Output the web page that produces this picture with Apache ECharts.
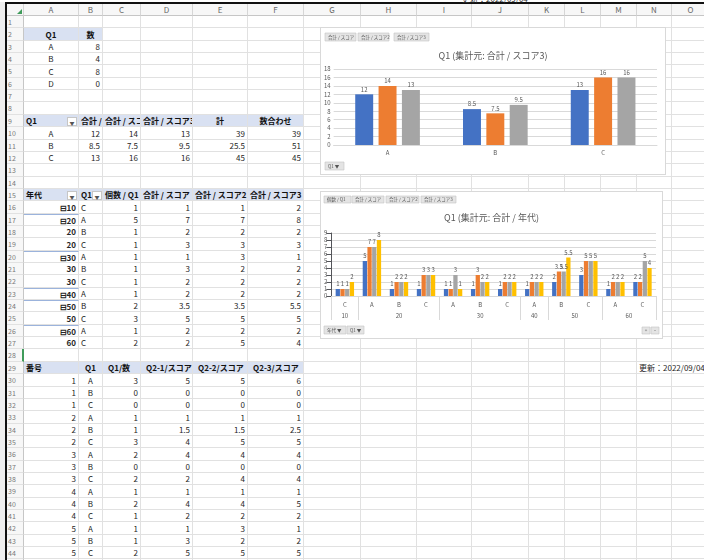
<!DOCTYPE html>
<html>
<head>
<meta charset="utf-8">
<script src="https://cdn.jsdelivr.net/npm/echarts@6/dist/echarts.min.js"></script>
<style>
body { margin: 0; width: 704px; height: 560px; overflow: hidden; background: #fff; font-family: "Noto Sans CJK JP", "Noto Sans", sans-serif; }
#sheet { position: absolute; left: 0; top: 0; width: 704px; height: 560px; overflow: hidden; }
#sheet div { position: absolute; }
.c { box-sizing: border-box; border-right: 1px solid #e1e1e1; border-bottom: 1px solid #e1e1e1; font-size: 8px; color: #262626; white-space: nowrap; overflow: hidden; padding: 0 2px; }
.hd { box-sizing: border-box; background: #f7f7f7; color: #666; font-size: 8px; text-align: center; border-right: 1px solid #d6d6d6; border-bottom: 1px solid #c6c6c6; }
.rh { box-sizing: border-box; background: #f7f7f7; color: #777; font-size: 7px; padding-left: 2px; border-right: 1px solid #c6c6c6; border-bottom: 1px solid #e1e1e1; }
.dd { box-sizing: border-box; width: 10px; height: 9px; border: 1px solid #c6c6c6; background: #fff; font-size: 5px; line-height: 7px; text-align: center; color: #555; }
.chart { position: absolute; background: #fff; border: 1px solid #d9d9d9; box-sizing: border-box; }
</style>
</head>
<body>
<div id="sheet"></div>
<div id="chart1" class="chart" style="left:320px;top:27px;width:346px;height:148px;"></div>
<div id="chart2" class="chart" style="left:320px;top:191px;width:343px;height:148px;"></div>
<script>
// ---- data ----
var q1List = ['A', 'B', 'C', 'D'];
var q1Count = [8, 4, 8, 0];

var q1Cats = ['A', 'B', 'C'];
var score1 = [12, 8.5, 13];
var score2 = [14, 7.5, 16];
var score3 = [13, 9.5, 16];
var scoreTotal = [39, 25.5, 45];
var matchTotal = [39, 51, 45];

var leafAge = ['10', '20', '20', '20', '30', '30', '30', '40', '50', '50', '60', '60'];
var leafQ1 = ['C', 'A', 'B', 'C', 'A', 'B', 'C', 'A', 'B', 'C', 'A', 'C'];
var ageCount = [1, 5, 1, 1, 1, 1, 1, 1, 2, 3, 1, 2];
var ageSum1 = [1, 7, 2, 3, 1, 3, 2, 2, 3.5, 5, 2, 2];
var ageSum2 = [1, 7, 2, 3, 3, 2, 2, 2, 3.5, 5, 2, 5];
var ageSum3 = [2, 8, 2, 3, 1, 2, 2, 2, 5.5, 5, 2, 4];

var rawNo = [1, 1, 1, 2, 2, 2, 3, 3, 3, 4, 4, 4, 5, 5, 5];
var rawQ1 = ['A', 'B', 'C', 'A', 'B', 'C', 'A', 'B', 'C', 'A', 'B', 'C', 'A', 'B', 'C'];
var rawCount = [3, 0, 0, 1, 1, 3, 2, 0, 2, 1, 2, 1, 1, 1, 2];
var rawS1 = [5, 0, 0, 1, 1.5, 4, 4, 0, 2, 1, 4, 2, 1, 3, 5];
var rawS2 = [5, 0, 0, 1, 1.5, 5, 4, 0, 4, 1, 4, 2, 3, 2, 5];
var rawS3 = [6, 0, 0, 1, 2.5, 5, 4, 0, 4, 1, 5, 2, 1, 2, 5];

// ---- sheet ----
var colEdges = [24, 79, 103, 141, 193, 248, 304, 361, 417, 472, 529, 565, 601, 637, 672, 710];
var colNames = 'ABCDEFGHIJKLMNO'.split('');
var HB = '#d9e1f2';
var sheet = document.getElementById('sheet');

function rowTop(r) { return Math.round(16 + (r - 1) * 12.35); }

function addDiv(cls, x, y, w, h, text, css) {
    var d = document.createElement('div');
    d.className = cls;
    d.style.left = x + 'px';
    d.style.top = y + 'px';
    d.style.width = w + 'px';
    d.style.height = h + 'px';
    d.style.lineHeight = h + 'px';
    if (text !== undefined) d.textContent = text;
    if (css) d.style.cssText += css;
    sheet.appendChild(d);
    return d;
}

var cells = {};
function put(r, c, t, opt) {
    var o = opt || {};
    o.t = String(t);
    cells[r + ':' + c] = o;
}

// table 1
put(2, 0, 'Q1', { a: 'center', b: 1, bg: HB });
put(2, 1, '数', { a: 'center', b: 1, bg: HB });
q1List.forEach(function (q, i) {
    put(3 + i, 0, q, { a: 'center' });
    put(3 + i, 1, q1Count[i], { a: 'right' });
});

// table 2
var head2 = ['Q1', '合計 / スコア', '合計 / スコア2', '合計 / スコア3', '計', '数合わせ'];
var align2 = ['left', 'left', 'left', 'left', 'center', 'center'];
head2.forEach(function (h, c) { put(9, c, h, { a: align2[c], b: 1, bg: HB }); });
q1Cats.forEach(function (q, i) {
    put(10 + i, 0, q, { a: 'center' });
    [score1, score2, score3, scoreTotal, matchTotal].forEach(function (arr, k) {
        put(10 + i, 1 + k, arr[i], { a: 'right' });
    });
});

// table 3
var head3 = ['年代', 'Q1', '個数 / Q1', '合計 / スコア', '合計 / スコア2', '合計 / スコア3'];
head3.forEach(function (h, c) { put(15, c, h, { a: 'left', b: 1, bg: HB }); });
leafAge.forEach(function (age, i) {
    var first = i === 0 || leafAge[i - 1] !== age;
    put(16 + i, 0, (first ? '⊟' : '') + age, { a: 'right', b: 1, top: first && i > 0 });
    put(16 + i, 1, leafQ1[i], { a: 'left' });
    [ageCount, ageSum1, ageSum2, ageSum3].forEach(function (arr, k) {
        put(16 + i, 2 + k, arr[i], { a: 'right' });
    });
});

// table 4
var head4 = ['番号', 'Q1', 'Q1/数', 'Q2-1/スコア', 'Q2-2/スコア', 'Q2-3/スコア'];
var align4 = ['left', 'center', 'left', 'left', 'left', 'left'];
head4.forEach(function (h, c) { put(29, c, h, { a: align4[c], b: 1, bg: HB, pad: c > 1 ? 5 : 2 }); });
rawNo.forEach(function (n, i) {
    put(30 + i, 0, n, { a: 'right' });
    put(30 + i, 1, rawQ1[i], { a: 'center' });
    [rawCount, rawS1, rawS2, rawS3].forEach(function (arr, k) {
        put(30 + i, 2 + k, arr[i], { a: 'right' });
    });
});
put(29, 13, '更新：2022/09/04', { a: 'left', ov: 1 });

// column headers
addDiv('hd', 6, 3, 18, 13, '');
addDiv('', 17, 9, 0, 0, undefined, 'border-left:5px solid transparent;border-bottom:5px solid #3f9b5a;');
colNames.forEach(function (n, i) {
    addDiv('hd', colEdges[i], 3, colEdges[i + 1] - colEdges[i], 13, n);
});

for (var r = 1; r <= 45; r++) {
    var y = rowTop(r), h = rowTop(r + 1) - y;
    var rh = addDiv('rh', 6, y, 18, h, String(r));
    if (r === 28) rh.style.borderRight = '2px solid #3f9b5a';
    for (var c = 0; c < colNames.length; c++) {
        var cell = cells[r + ':' + c];
        var d = addDiv('c', colEdges[c], y, colEdges[c + 1] - colEdges[c], h, cell ? cell.t : '');
        if (!cell) continue;
        d.style.textAlign = cell.a;
        if (cell.b) d.style.fontWeight = 'bold';
        if (cell.bg) { d.style.background = cell.bg; d.style.color = '#111'; }
        if (cell.pad) d.style.paddingLeft = cell.pad + 'px';
        if (cell.top) d.style.borderTop = '1px solid #9bb3dc';
        if (cell.ov) { d.style.overflow = 'visible'; d.style.zIndex = 2; }
    }
}
// filter buttons
addDiv('dd', 67, rowTop(9) + 2, 10, 9, '▼');
addDiv('dd', 67, rowTop(15) + 2, 10, 9, '▼');
addDiv('dd', 92, rowTop(15) + 2, 10, 9, '▼');

// outer frame
addDiv('', 0, 0, 5, 560, undefined, 'background:#eeeeee');
addDiv('', 5, 2, 2, 558, undefined, 'background:#111');
addDiv('', 5, 2, 699, 2, undefined, 'background:#111');
addDiv('', 0, 0, 704, 2, undefined, 'background:#fff;overflow:hidden;');
addDiv('', 462, -5, 100, 7, '更新：2022/09/04', 'font-size:8px;color:#333;line-height:7px;white-space:nowrap;');

// ---- charts ----
var FONT = '"Noto Sans CJK JP", "Noto Sans", sans-serif';
var palette = ['#4472c4', '#ed7d31', '#a5a5a5', '#ffc000'];

function buttons(list) {
    return list.map(function (b) {
        var small = b[4] === '+' || b[4] === '−';
        return {
            type: 'group', x: b[0], y: b[1],
            children: [
                { type: 'rect', shape: { x: 0, y: 0, width: b[2], height: b[3] }, style: { fill: '#e4e4e4', stroke: '#c4c4c4', lineWidth: 0.6 } },
                { type: 'text', x: small ? b[2] / 2 : 3, y: b[3] / 2,
                  style: { text: b[4], fontSize: 4.5, fill: '#555', fontFamily: FONT, verticalAlign: 'middle',
                           align: small ? 'center' : 'left' } }
            ]
        };
    });
}

function barSeries(name, data, i, fs) {
    return {
        name: name, type: 'bar', data: data,
        itemStyle: { color: palette[i] },
        label: { show: true, position: 'top', distance: 2, fontSize: fs, color: '#595959', fontFamily: FONT }
    };
}

var chart1 = echarts.init(document.getElementById('chart1'));
var chart2 = echarts.init(document.getElementById('chart2'));

var option1 = {
    animation: false,
    title: {
        text: 'Q1 (集計元: 合計 / スコア3)',
        left: 'center', top: 18,
        textStyle: { color: '#595959', fontSize: 9, fontWeight: 'normal', fontFamily: FONT }
    },
    grid: { left: 12, right: 8, top: 41, bottom: 29 },
    xAxis: {
        type: 'category',
        data: q1Cats,
        axisLine: { lineStyle: { color: '#d9d9d9' } },
        axisTick: { show: false },
        axisLabel: { color: '#595959', fontSize: 6, margin: 5, fontFamily: FONT }
    },
    yAxis: {
        type: 'value', min: 0, max: 18, interval: 2,
        axisLabel: { color: '#595959', fontSize: 6, margin: 3, fontFamily: FONT },
        splitLine: { lineStyle: { color: '#d9d9d9' } }
    },
    graphic: buttons([
        [4, 5, 31, 8, '合計 / スコア'],
        [37, 5, 31, 8, '合計 / スコア2'],
        [73, 5, 35, 8, '合計 / スコア3'],
        [4, 134, 19, 8, 'Q1 ▼']
    ]),
    series: [
        Object.assign(barSeries('合計 / スコア', score1, 0, 6), { barGap: '30%', barCategoryGap: '40%' }),
        barSeries('合計 / スコア2', score2, 1, 6),
        barSeries('合計 / スコア3', score3, 2, 6)
    ]
};

// group boundaries / centres for the 年代 level
var ageGroups = [], groupEdges = [0], groupMids = [];
leafAge.forEach(function (a, i) {
    if (i === 0 || leafAge[i - 1] !== a) {
        if (i > 0) groupEdges.push(i);
        ageGroups.push(a);
    }
});
groupEdges.push(leafAge.length);
for (var g = 0; g < ageGroups.length; g++) groupMids.push((groupEdges[g] + groupEdges[g + 1]) / 2);

var option2 = {
    animation: false,
    title: {
        text: 'Q1 (集計元: 合計 / 年代)',
        left: 'center', top: 16,
        textStyle: { color: '#595959', fontSize: 9, fontWeight: 'normal', fontFamily: FONT }
    },
    grid: { left: 10, right: 6, top: 41, bottom: 42 },
    xAxis: [{
        type: 'category',
        data: leafQ1,
        axisLine: { lineStyle: { color: '#d9d9d9' } },
        axisTick: { show: false },
        axisLabel: { interval: 0, color: '#595959', fontSize: 6, margin: 6, fontFamily: FONT }
    }, {
        type: 'value', min: 0, max: leafAge.length,
        position: 'bottom',
        axisLine: { show: false },
        splitLine: { show: false },
        axisTick: { show: true, customValues: groupEdges, length: 24, lineStyle: { color: '#d9d9d9' } },
        axisLabel: {
            customValues: groupMids, margin: 17, color: '#595959', fontSize: 6, fontFamily: FONT,
            formatter: function (v) { return ageGroups[groupMids.indexOf(v)]; }
        }
    }],
    yAxis: {
        type: 'value', min: 0, max: 9, interval: 1,
        axisLabel: { color: '#595959', fontSize: 6, margin: 4, fontFamily: FONT },
        splitLine: { lineStyle: { color: '#d9d9d9' } }
    },
    graphic: buttons([
        [3, 4, 27, 7, '個数 / Q1'],
        [31, 4, 32, 7, '合計 / スコア'],
        [65, 4, 33, 7, '合計 / スコア2'],
        [100, 4, 35, 7, '合計 / スコア3'],
        [3, 134, 22, 8, '年代 ▼'],
        [26, 134, 17, 8, 'Q1 ▼'],
        [321, 135, 8, 7, '+'],
        [330, 135, 8, 7, '−']
    ]),
    series: [
        Object.assign(barSeries('個数 / Q1', ageCount, 0, 6), { barGap: '10%', barCategoryGap: '32%' }),
        barSeries('合計 / スコア', ageSum1, 1, 6),
        barSeries('合計 / スコア2', ageSum2, 2, 6),
        barSeries('合計 / スコア3', ageSum3, 3, 6)
    ]
};

chart1.setOption(option1);
chart2.setOption(option2);
</script>
</body>
</html>
